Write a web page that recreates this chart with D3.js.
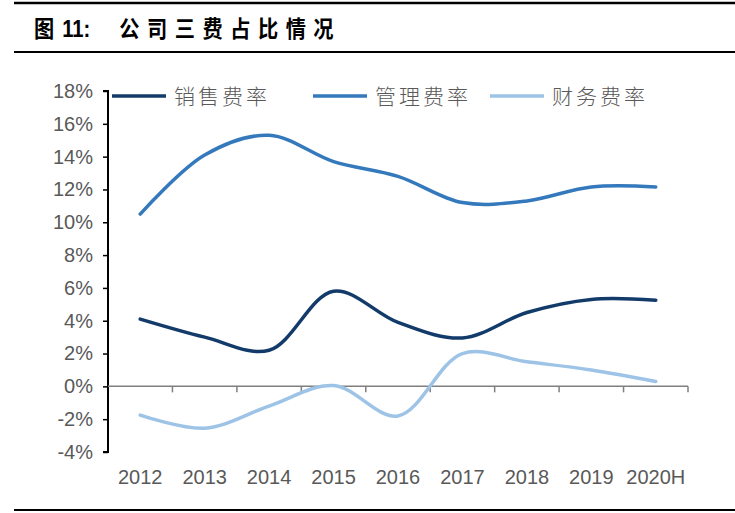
<!DOCTYPE html>
<html>
<head>
<meta charset="utf-8">
<script src="https://cdn.jsdelivr.net/npm/d3@7"></script>
<style>
  body { margin: 0; background: #fff; }
  svg { display: block; }
</style>
</head>
<body>
<div id="chart"></div>
<script>
const years = ["2012", "2013", "2014", "2015", "2016", "2017", "2018", "2019", "2020H"];
const sellingRate = [4.1, 3.0, 2.2, 5.8, 3.9, 2.95, 4.5, 5.3, 5.25];
const adminRate = [10.5, 14.1, 15.3, 13.7, 12.8, 11.2, 11.3, 12.15, 12.15];
const financeRate = [-1.75, -2.55, -1.2, 0.05, -1.8, 2.0, 1.5, 1.0, 0.3];
const yTicks = [-4, -2, 0, 2, 4, 6, 8, 10, 12, 14, 16, 18];

const series = [
  { name: "销售费率", values: sellingRate, color: "#123B6A" },
  { name: "管理费率", values: adminRate, color: "#3579BD" },
  { name: "财务费率", values: financeRate, color: "#9DC3E6" },
];

const W = 735, H = 513;
const svg = d3.select("#chart").append("svg").attr("width", W).attr("height", H);

// title block
svg.append("line").attr("x1", 14).attr("x2", W).attr("y1", 3).attr("y2", 3)
  .attr("stroke", "#000").attr("stroke-width", 2.5);
svg.append("line").attr("x1", 14).attr("x2", W).attr("y1", 52).attr("y2", 52)
  .attr("stroke", "#000").attr("stroke-width", 2);
svg.append("line").attr("x1", 14).attr("x2", W).attr("y1", 510).attr("y2", 510)
  .attr("stroke", "#000").attr("stroke-width", 2);
const title = svg.append("g").attr("transform", "translate(34,37) scale(0.88,1)")
  .append("text")
  .style("font-family", "'Noto Sans CJK SC', sans-serif")
  .style("font-weight", "bold").style("font-size", "23px");
title.append("tspan").attr("x", 0).text("图");
title.append("tspan").attr("x", 32).style("font-family", "'Liberation Sans', Arial, sans-serif").text("11:");
title.append("tspan").attr("x", 97).style("letter-spacing", "8.5px").text("公司三费占比情况");

const x = d3.scaleBand().domain(years).range([108, 688]);
const y = d3.scaleLinear().domain([-4, 18]).range([452, 91]);

const tickFont = "'Liberation Sans', Arial, sans-serif";

// y axis
const yAxis = svg.append("g").attr("transform", "translate(108,0)")
  .call(d3.axisLeft(y).tickValues(yTicks).tickSize(5).tickPadding(10).tickFormat(d => d + "%"));
yAxis.select(".domain").attr("stroke", "#000").attr("stroke-width", 2)
  .attr("d", `M-5,${y(18)}H0V${y(-4)}H-5`);
yAxis.selectAll(".tick line").attr("stroke", "#000").attr("stroke-width", 1.5);
yAxis.selectAll(".tick text").attr("fill", "#595959")
  .style("font-family", tickFont).style("font-size", "20px");

// x axis at zero
const xAxis = svg.append("g").attr("transform", `translate(0,${y(0)})`)
  .call(d3.axisBottom(x).tickSize(0).tickPadding(83));
xAxis.select(".domain").attr("stroke", "#7f7f7f").attr("stroke-width", 1.5)
  .attr("d", `M108,0H688`);
xAxis.selectAll(".tick text").attr("fill", "#595959")
  .style("font-family", tickFont).style("font-size", "20px");
xAxis.selectAll(".bound").data(d3.range(1, years.length + 1)).enter().append("line")
  .attr("class", "bound")
  .attr("x1", i => 108 + x.step() * i).attr("x2", i => 108 + x.step() * i)
  .attr("y1", 0).attr("y2", 6)
  .attr("stroke", "#7f7f7f").attr("stroke-width", 1.5);

const line = d3.line()
  .x((d, i) => x(years[i]) + x.bandwidth() / 2)
  .y(d => y(d))
  .curve(d3.curveCatmullRom.alpha(0.5));

svg.selectAll(".series").data(series).enter().append("path")
  .attr("class", "series")
  .attr("fill", "none")
  .attr("stroke", d => d.color)
  .attr("stroke-width", 3.5)
  .attr("stroke-linecap", "round")
  .attr("d", d => line(d.values));

// legend
const legendX = [112, 313, 490];
const legend = svg.selectAll(".legend").data(series).enter().append("g")
  .attr("class", "legend")
  .attr("transform", (d, i) => `translate(${legendX[i]},96)`);
legend.append("line").attr("x1", 0).attr("x2", 54).attr("y1", 0).attr("y2", 0)
  .attr("stroke", d => d.color).attr("stroke-width", 3.5);
legend.append("text").attr("x", 62).attr("y", 8)
  .attr("fill", "#595959")
  .style("font-family", "'Noto Sans CJK SC', sans-serif")
  .style("font-weight", 300)
  .style("font-size", "21px")
  .style("letter-spacing", "3px")
  .text(d => d.name);
</script>
</body>
</html>
